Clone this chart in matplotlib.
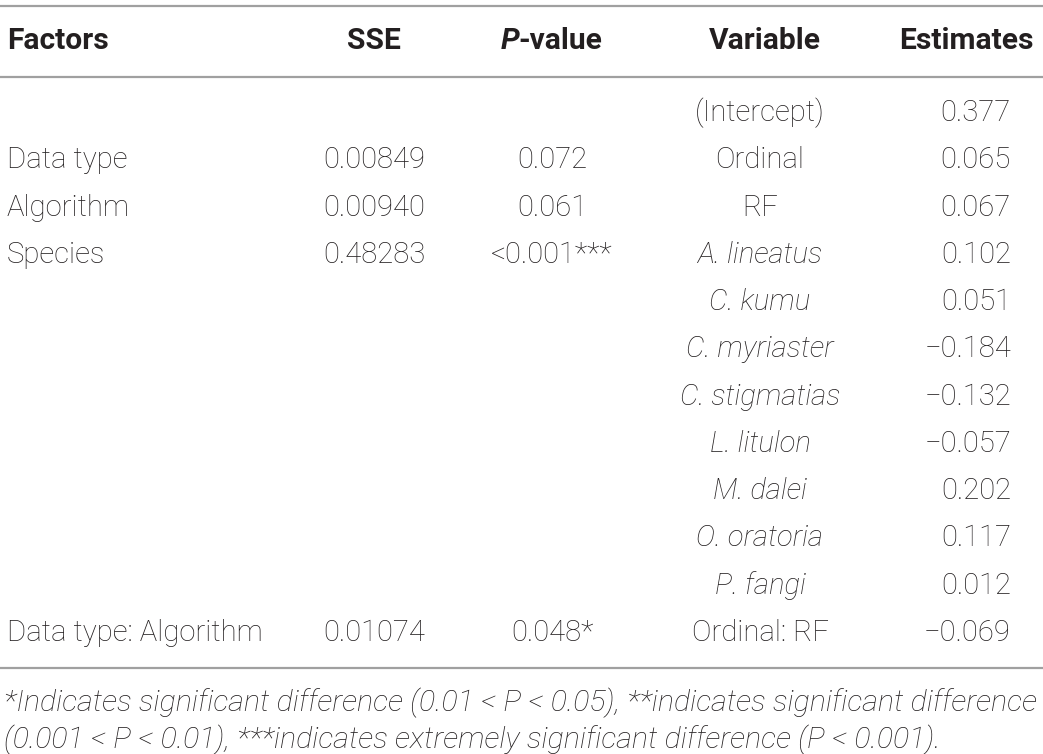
import matplotlib
matplotlib.use("Agg")
import matplotlib.pyplot as plt

plt.rcParams['font.family'] = ['Roboto', 'DejaVu Sans']

headers = ["Factors", "SSE", "P-value", "Variable", "Estimates"]
factors = ["", "Data type", "Algorithm", "Species", "", "", "", "", "", "", "", "Data type: Algorithm"]
sse = ["", "0.00849", "0.00940", "0.48283", "", "", "", "", "", "", "", "0.01074"]
pvals = ["", "0.072", "0.061", "<0.001***", "", "", "", "", "", "", "", "0.048*"]
variables = ["(Intercept)", "Ordinal", "RF", "A. lineatus", "C. kumu", "C. myriaster",
             "C. stigmatias", "L. litulon", "M. dalei", "O. oratoria", "P. fangi", "Ordinal: RF"]
italic_var = [False, False, False, True, True, True, True, True, True, True, True, False]
estimates = ["0.377", "0.065", "0.067", "0.102", "0.051", "\u22120.184", "\u22120.132",
             "\u22120.057", "0.202", "0.117", "0.012", "\u22120.069"]
footnote = ["*Indicates significant difference (0.01 < P < 0.05), **indicates significant difference",
            "(0.001 < P < 0.01), ***indicates extremely significant difference (P < 0.001)."]

W, H = 1043, 754
fig = plt.figure(figsize=(W / 100, H / 100), dpi=100)
ax = fig.add_axes([0, 0, 1, 1])
ax.set_xlim(0, W)
ax.set_ylim(H, 0)
ax.axis('off')

fs = 21.1
hfs = 21.6
ffs = 21.9
col = '#231f20'
line_col = '#a0a0a0'

# column anchors (pixels)
x_fac, x_sse, x_p, x_var, x_est, x_est_head = 7, 374, 552, 760, 1011, 1034

# horizontal rules
for y in [6, 77, 668]:
    ax.plot([0, W], [y, y], color=line_col, lw=1.6, solid_capstyle='butt')

# header
hy = 41
ax.text(x_fac, hy, headers[0], fontsize=hfs, weight='bold', ha='left', va='center', color=col)
ax.text(x_sse, hy, headers[1], fontsize=hfs, weight='bold', ha='center', va='center', color=col)
ax.text(501, hy, "P", fontsize=hfs, weight='bold', style='italic', ha='left', va='center', color=col)
ax.text(518, hy, "-value", fontsize=hfs, weight='bold', ha='left', va='center', color=col)
ax.text(765, hy, headers[3], fontsize=hfs, weight='bold', ha='center', va='center', color=col)
ax.text(x_est_head, hy, headers[4], fontsize=hfs, weight='bold', ha='right', va='center', color=col)

y0, dy = 113, 47.27
for i in range(len(variables)):
    y = y0 + i * dy
    ax.text(x_fac, y, factors[i], fontsize=fs, weight='light', ha='left', va='center', color=col)
    ax.text(x_sse, y, sse[i], fontsize=fs, weight='light', ha='center', va='center', color=col)
    ax.text(x_p, y, pvals[i], fontsize=fs, weight='light', ha='center', va='center', color=col)
    ax.text(x_var, y, variables[i], fontsize=fs, weight='light', ha='center', va='center', color=col,
            style='italic' if italic_var[i] else 'normal')
    ax.text(x_est, y, estimates[i], fontsize=fs, weight='light', ha='right', va='center', color=col)

for j, line in enumerate(footnote):
    ax.text(4, 703 + j * 37, line, fontsize=ffs, weight='light', style='italic',
            ha='left', va='center', color=col)

fig.savefig("out.png", dpi=100)
